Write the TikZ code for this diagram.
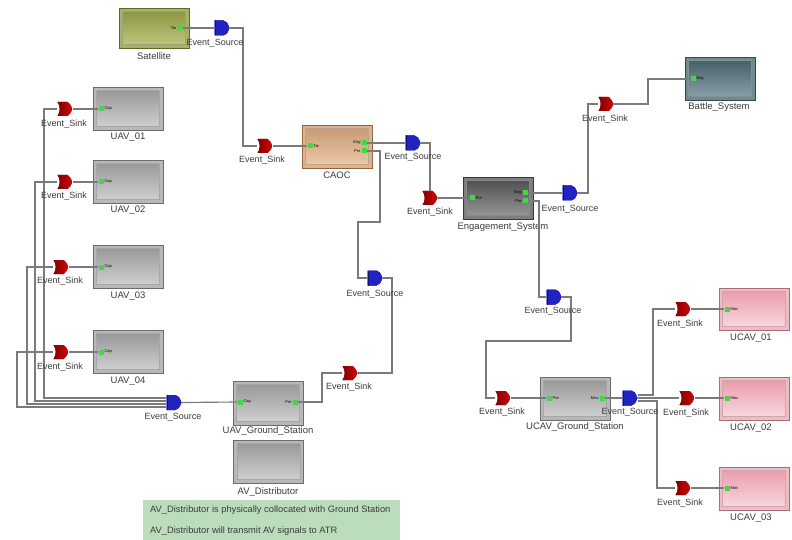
\documentclass[tikz,border=0pt]{standalone}
\usepackage{fontspec}
\setmainfont{Liberation Sans}
\usetikzlibrary{calc}

% palette
\definecolor{wirec}{HTML}{7A7A7A}
\definecolor{txt}{HTML}{3C3C3C}
\definecolor{portg}{HTML}{44D644}
\definecolor{sinkc}{HTML}{D00808}
\definecolor{sinkd}{HTML}{840000}
\definecolor{srcc}{HTML}{2222C0}
\definecolor{srcd}{HTML}{10107A}
\definecolor{noteg}{HTML}{BCDDBC}
% gray blocks
\definecolor{grB}{HTML}{6C6C6C}\definecolor{grF}{HTML}{B8B8B8}
\definecolor{grT}{HTML}{949494}\definecolor{grL}{HTML}{D4D4D4}
% satellite
\definecolor{saB}{HTML}{5E6628}\definecolor{saF}{HTML}{A9B264}
\definecolor{saT}{HTML}{87923E}\definecolor{saL}{HTML}{C3C983}
% CAOC
\definecolor{caB}{HTML}{96663F}\definecolor{caF}{HTML}{DDB38E}
\definecolor{caT}{HTML}{C69670}\definecolor{caL}{HTML}{EECDAE}
% engagement system
\definecolor{enB}{HTML}{383838}\definecolor{enF}{HTML}{7E7E7E}
\definecolor{enT}{HTML}{4A4A4A}\definecolor{enL}{HTML}{9C9C9C}
% battle system
\definecolor{baB}{HTML}{34494F}\definecolor{baF}{HTML}{6F8A93}
\definecolor{baT}{HTML}{405A63}\definecolor{baL}{HTML}{8EA5AC}
% UCAV
\definecolor{ucB}{HTML}{A86C7A}\definecolor{ucF}{HTML}{F2BAC5}
\definecolor{ucT}{HTML}{E898A8}\definecolor{ucL}{HTML}{FADCE2}

\tikzset{
  wire/.style={draw=wirec, line width=1.15pt},
  lbl/.style={font=\fontsize{9}{10}\selectfont, text=txt, inner sep=0pt},
  blbl/.style={font=\fontsize{9.5}{11}\selectfont, text=txt, inner sep=0pt},
  notetext/.style={font=\fontsize{9.3}{10}\selectfont, text=txt, inner sep=0pt, anchor=west},
  pinl/.style={font=\fontsize{4}{4}\selectfont, inner sep=0.6pt, text=black},
  port/.style={rectangle, fill=portg, minimum size=5pt, inner sep=0pt},
  block/.style={rectangle, inner sep=0pt, minimum width=70pt, minimum height=43pt, line width=0.8pt},
  blk/.style n args={4}{draw=#1, fill=#2,
    path picture={\draw[draw=#1!60, line width=0.4pt, top color=#3, bottom color=#4]
      ([shift={(3.5,3.5)}]path picture bounding box.north west) rectangle
      ([shift={(-3.5,-3.5)}]path picture bounding box.south east);}},
  sink/.style={rectangle, minimum width=15pt, minimum height=14pt, inner sep=0pt,
    path picture={\shade[left color=sinkd, right color=sinkc, shift={(path picture bounding box.center)}]
      (-7.5,-7) -- (2.5,-7) .. controls (5,-5) .. (7.5,0) .. controls (5,5) .. (2.5,7)
      -- (-7.5,7) .. controls (-4.5,3) and (-4.5,-3) .. (-7.5,-7) -- cycle;}},
  source/.style={rectangle, minimum width=15pt, minimum height=15pt, inner sep=0pt,
    path picture={\fill[srcc, shift={(path picture bounding box.center)}]
      (-7.5,-7.5) -- (1.5,-7.5) .. controls (5,-6) .. (7.5,0) .. controls (5,6) .. (1.5,7.5)
      -- (-7.5,7.5) -- cycle;
      \fill[srcd, shift={(path picture bounding box.center)}] (-7.5,-7.5) rectangle (-6,7.5);}},
}

\begin{document}
\begin{tikzpicture}[x=1pt, y=-1pt]
\useasboundingbox[fill=white] (0,0) rectangle (792,540);

% ---------- blocks ----------
\node[block, blk={saB}{saF}{saT}{saL}, minimum height=40pt] (sat) at (154,28) {};
\node[block, blk={caB}{caF}{caT}{caL}] (caoc) at (337,146.5) {};
\node[block, blk={enB}{enF}{enT}{enL}, minimum height=42pt] (eng) at (498,198) {};
\node[block, blk={baB}{baF}{baT}{baL}] (bat) at (720,78.5) {};
\node[block, blk={grB}{grF}{grT}{grL}] (uav1) at (128,108.5) {};
\node[block, blk={grB}{grF}{grT}{grL}] (uav2) at (128,181.5) {};
\node[block, blk={grB}{grF}{grT}{grL}] (uav3) at (128,266.5) {};
\node[block, blk={grB}{grF}{grT}{grL}] (uav4) at (128,351.5) {};
\node[block, blk={grB}{grF}{grT}{grL}, minimum height=44pt] (ugs) at (268,403) {};
\node[block, blk={grB}{grF}{grT}{grL}] (avd) at (268.5,461.5) {};
\node[block, blk={grB}{grF}{grT}{grL}] (ucgs) at (575,398.5) {};
\node[block, blk={ucB}{ucF}{ucT}{ucL}, minimum height=42pt] (ucav1) at (754,309) {};
\node[block, blk={ucB}{ucF}{ucT}{ucL}] (ucav2) at (754,398.5) {};
\node[block, blk={ucB}{ucF}{ucT}{ucL}] (ucav3) at (754,488.5) {};

% block captions
\node[blbl] (sat-l)   at (154,56)  {Satellite};
\node[blbl] (caoc-l)  at (337,175) {CAOC};
\node[blbl] (eng-l)   at (503,227) {Engagement\_System};
\node[blbl] (bat-l)   at (719,107) {Battle\_System};
\node[blbl] (uav1-l)  at (128,137) {UAV\_01};
\node[blbl] (uav2-l)  at (128,210) {UAV\_02};
\node[blbl] (uav3-l)  at (128,296) {UAV\_03};
\node[blbl] (uav4-l)  at (128,381) {UAV\_04};
\node[blbl] (ugs-l)   at (268,431) {UAV\_Ground\_Station};
\node[blbl] (avd-l)   at (268,492) {AV\_Distributor};
\node[blbl] (ucgs-l)  at (575,427) {UCAV\_Ground\_Station};
\node[blbl] (ucav1-l) at (751,338) {UCAV\_01};
\node[blbl] (ucav2-l) at (751,428) {UCAV\_02};
\node[blbl] (ucav3-l) at (751,518) {UCAV\_03};

% ---------- ports ----------
\node[port] (sat-tar) at (180,28) {};
\node[port] (caoc-tar) at (310,146) {};
\node[port] (caoc-eng) at (364,143) {};
\node[port] (caoc-pre) at (364,151) {};
\node[port] (eng-pre) at (472,198) {};
\node[port] (eng-eng) at (525,193) {};
\node[port] (eng-pre2) at (525,201) {};
\node[port] (bat-eng) at (693,79) {};
\node[port] (uav1-cap) at (101,109) {};
\node[port] (uav2-cap) at (101,182) {};
\node[port] (uav3-cap) at (101,267) {};
\node[port] (uav4-cap) at (101,352) {};
\node[port] (ugs-cap) at (240,402) {};
\node[port] (ugs-pre) at (295,402) {};
\node[port] (ucgs-pre) at (549,398) {};
\node[port] (ucgs-mov) at (602,398) {};
\node[port] (ucav1-mov) at (727,309) {};
\node[port] (ucav2-mov) at (727,398) {};
\node[port] (ucav3-mov) at (727,488) {};

% port names
\node[pinl, anchor=east] (sat-tar-l) at (sat-tar.west) {Tar};
\node[pinl, anchor=west] (caoc-tar-l) at (caoc-tar.east) {Tar};
\node[pinl, anchor=east] (caoc-eng-l) at (caoc-eng.west) {Eng};
\node[pinl, anchor=east] (caoc-pre-l) at (caoc-pre.west) {Pre};
\node[pinl, anchor=west] (eng-pre-l) at (eng-pre.east) {Pre};
\node[pinl, anchor=east] (eng-eng-l) at (eng-eng.west) {Eng};
\node[pinl, anchor=east] (eng-pre2-l) at (eng-pre2.west) {Pre};
\node[pinl, anchor=west] (bat-eng-l) at (bat-eng.east) {Eng};
\node[pinl, anchor=west] (uav1-cap-l) at (uav1-cap.east) {Cap};
\node[pinl, anchor=west] (uav2-cap-l) at (uav2-cap.east) {Cap};
\node[pinl, anchor=west] (uav3-cap-l) at (uav3-cap.east) {Cap};
\node[pinl, anchor=west] (uav4-cap-l) at (uav4-cap.east) {Cap};
\node[pinl, anchor=west] (ugs-cap-l) at (ugs-cap.east) {Cap};
\node[pinl, anchor=east] (ugs-pre-l) at (ugs-pre.west) {Pre};
\node[pinl, anchor=west] (ucgs-pre-l) at (ucgs-pre.east) {Pre};
\node[pinl, anchor=east] (ucgs-mov-l) at (ucgs-mov.west) {Mov};
\node[pinl, anchor=west] (ucav1-mov-l) at (ucav1-mov.east) {Mov};
\node[pinl, anchor=west] (ucav2-mov-l) at (ucav2-mov.east) {Mov};
\node[pinl, anchor=west] (ucav3-mov-l) at (ucav3-mov.east) {Mov};

% ---------- event sinks and sources (placed as coordinates first) ----------
\coordinate (k1c) at (265,146);
\coordinate (k2c) at (430,198);
\coordinate (k3c) at (606,104);
\coordinate (k4c) at (350,373);
\coordinate (k5c) at (503,398);
\coordinate (ku1c) at (683,309);
\coordinate (ku2c) at (687,398);
\coordinate (ku3c) at (683,488);
\coordinate (kv1c) at (65,109);
\coordinate (kv2c) at (65,182);
\coordinate (kv3c) at (61,267);
\coordinate (kv4c) at (61,352);

\node[source] (s1) at (222,28) {};
\node[source] (s2) at (413,143) {};
\node[source] (s3) at (375,278) {};
\node[source] (s4) at (570,193) {};
\node[source] (s5) at (554,297) {};
\node[source] (s6) at (174,402.5) {};
\node[source] (s7) at (630,398) {};

\node[sink] (k1) at (k1c) {};
\node[sink] (k2) at (k2c) {};
\node[sink] (k3) at (k3c) {};
\node[sink] (k4) at (k4c) {};
\node[sink] (k5) at (k5c) {};
\node[sink] (ku1) at (ku1c) {};
\node[sink] (ku2) at (ku2c) {};
\node[sink] (ku3) at (ku3c) {};
\node[sink] (kv1) at (kv1c) {};
\node[sink] (kv2) at (kv2c) {};
\node[sink] (kv3) at (kv3c) {};
\node[sink] (kv4) at (kv4c) {};

% ---------- connectors ----------
\draw[wire] (sat-tar.east) -- (s1.west);
\draw[wire] (s1.east) -- (243,28) -- (243,146) -- (k1.west);
\draw[wire] (k1.east) -- (caoc-tar.west);
\draw[wire] (caoc-eng.east) -- (s2.west);
\draw[wire] (s2.east) -- (430,143) -- (k2.north);
\draw[wire] (k2.east) -- (eng-pre.west);
\draw[wire] (eng-eng.east) -- (s4.west);
\draw[wire] (s4.east) -- (588,193) -- (588,104) -- (k3.west);
\draw[wire] (k3.east) -- (648,104) -- (648,79) -- (bat-eng.west);
\draw[wire] (eng-pre2.east) -- (539,201) -- (539,297) -- (s5.west);
\draw[wire] (s5.east) -- (571,297) -- (571,341) -- (486,341) -- (486,398) -- (k5.west);
\draw[wire] (k5.east) -- (ucgs-pre.west);
\draw[wire] (ucgs-mov.east) -- (s7.west);
\draw[wire] ([yshift=3pt]s7.east) -- (653,395) -- (653,309) -- (ku1.west);
\draw[wire] (s7.east) -- (ku2.west);
\draw[wire] ([yshift=-3pt]s7.east) -- (657,401) -- (657,488) -- (ku3.west);
\draw[wire] (ku1.east) -- (ucav1-mov.west);
\draw[wire] (ku2.east) -- (ucav2-mov.west);
\draw[wire] (ku3.east) -- (ucav3-mov.west);
\draw[wire] (caoc-pre.east) -- (380,151) -- (380,222) -- (358,222) -- (358,278) -- (s3.west);
\draw[wire] (s3.east) -- (392,278) -- (392,373) -- (k4.east);
\draw[wire] (ugs-pre.east) -- (322,402) -- (322,373) -- (k4.west);
\draw[wire] (s6.east) -- (ugs-cap.west);
\draw[wire] (kv1.west) -- (44,109) -- (44,398) -- ([yshift=4.5pt]s6.west);
\draw[wire] (kv2.west) -- (35,182) -- (35,401) -- ([yshift=1.5pt]s6.west);
\draw[wire] (kv3.west) -- (27,267) -- (27,404) -- ([yshift=-1.5pt]s6.west);
\draw[wire] (kv4.west) -- (17,352) -- (17,407) -- ([yshift=-4.5pt]s6.west);
\draw[wire] (kv1.east) -- (uav1-cap.west);
\draw[wire] (kv2.east) -- (uav2-cap.west);
\draw[wire] (kv3.east) -- (uav3-cap.west);
\draw[wire] (kv4.east) -- (uav4-cap.west);

% redraw event glyphs on top of wires
\foreach \n/\c in {k1/k1c,k2/k2c,k3/k3c,k4/k4c,k5/k5c,ku1/ku1c,ku2/ku2c,ku3/ku3c,kv1/kv1c,kv2/kv2c,kv3/kv3c,kv4/kv4c}
  \node[sink] (\n-top) at (\c) {};
\node[source] (s1-top) at (s1) {};
\node[source] (s2-top) at (s2) {};
\node[source] (s3-top) at (s3) {};
\node[source] (s4-top) at (s4) {};
\node[source] (s5-top) at (s5) {};
\node[source] (s6-top) at (s6) {};
\node[source] (s7-top) at (s7) {};

% event captions
\node[lbl] (k1-l) at (262,160) {Event\_Sink};
\node[lbl] (k2-l) at (430,212) {Event\_Sink};
\node[lbl] (k3-l) at (605,119) {Event\_Sink};
\node[lbl] (k4-l) at (349,387) {Event\_Sink};
\node[lbl] (k5-l) at (502,412) {Event\_Sink};
\node[lbl] (ku1-l) at (680,324) {Event\_Sink};
\node[lbl] (ku2-l) at (686,413) {Event\_Sink};
\node[lbl] (ku3-l) at (680,503) {Event\_Sink};
\node[lbl] (kv1-l) at (64,124) {Event\_Sink};
\node[lbl] (kv2-l) at (64,196) {Event\_Sink};
\node[lbl] (kv3-l) at (60,281) {Event\_Sink};
\node[lbl] (kv4-l) at (60,367) {Event\_Sink};
\node[lbl] (s1-l) at (215,43) {Event\_Source};
\node[lbl] (s2-l) at (413,157) {Event\_Source};
\node[lbl] (s3-l) at (375,294) {Event\_Source};
\node[lbl] (s4-l) at (570,209) {Event\_Source};
\node[lbl] (s5-l) at (553,311) {Event\_Source};
\node[lbl] (s6-l) at (173,417) {Event\_Source};
\node[lbl] (s7-l) at (630,412) {Event\_Source};

% ---------- note ----------
\node[rectangle, fill=noteg, minimum width=257pt, minimum height=40pt, inner sep=0pt] (note) at (271.5,520) {};
\node[notetext] (note1) at (150,510) {AV\_Distributor is physically collocated with Ground Station};
\node[notetext] (note2) at (150,531) {AV\_Distributor will transmit AV signals to ATR};
\end{tikzpicture}
\end{document}
